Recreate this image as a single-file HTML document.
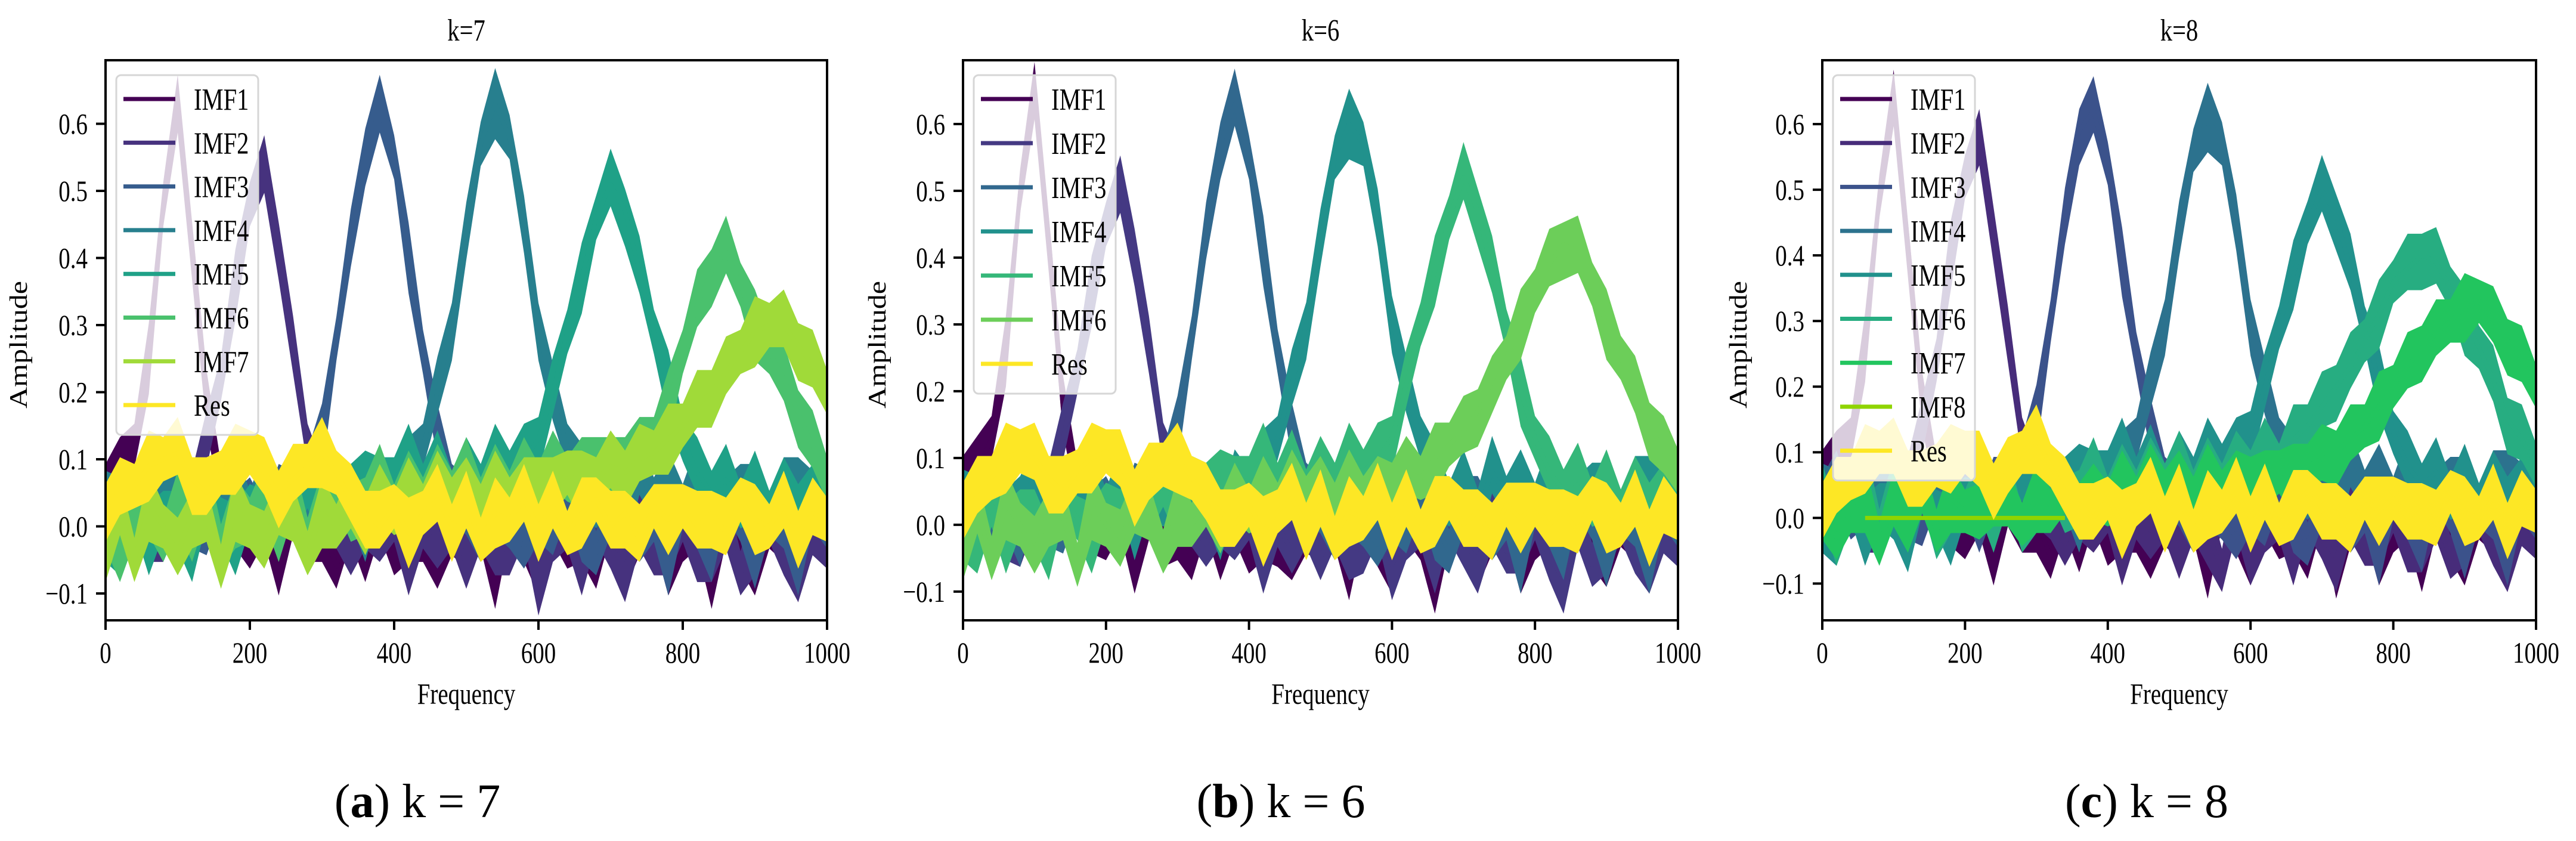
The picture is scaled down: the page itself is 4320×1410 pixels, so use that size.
<!DOCTYPE html>
<html><head><meta charset="utf-8">
<style>
html,body{margin:0;padding:0;background:#fff;}
svg{display:block;}
text{font-family:"Liberation Serif","DejaVu Serif",serif;fill:#000;}
</style></head>
<body>
<svg id="fig" width="4320" height="1410" viewBox="0 0 4320 1410" xmlns="http://www.w3.org/2000/svg">
<rect x="0" y="0" width="4320" height="1410" fill="#fff"/>
</svg>
<script>
// ---- data (values sampled every 20 Hz, 0..1000) ----
const freqs = [0,20,40,60,80,100,120,140,160,180,200,220,240,260,280,300,320,340,360,380,400,420,440,460,480,500,520,540,560,580,600,620,640,660,680,700,720,740,760,780,800,820,840,860,880,900,920,940,960,980,1000];
const xTicks = [0,200,400,600,800,1000];
const yTicks = [-0.1,0.0,0.1,0.2,0.3,0.4,0.5,0.6];
const yTickLabels = ["\u22120.1","0.0","0.1","0.2","0.3","0.4","0.5","0.6"];

const a_names = ["IMF1","IMF2","IMF3","IMF4","IMF5","IMF6","IMF7","Res"];
const a_colors = ["#440154","#46327e","#365c8d","#277f8e","#1fa187","#4ac16d","#a0da39","#fde725"];
const a_imf1 = [0.06,0.08,0.12,0.25,0.48,0.62,0.42,0.18,0.06,0.02,-0.03,0.01,-0.05,0.02,-0.02,0.0,-0.06,0.01,-0.03,0.02,-0.04,0.0,-0.02,-0.06,0.01,-0.03,0.0,-0.07,0.02,-0.02,-0.05,0.01,-0.03,0.0,-0.06,0.02,-0.04,-0.01,0.01,-0.05,-0.02,0.0,-0.07,0.01,-0.03,-0.05,0.0,-0.02,-0.06,0.01,-0.03];
const a_imf2 = [0.02,-0.03,0.04,0.0,-0.02,0.03,0.05,0.12,0.22,0.36,0.48,0.53,0.42,0.26,0.12,0.04,0.0,-0.04,0.02,-0.02,0.01,-0.05,0.0,-0.03,0.02,-0.06,0.0,-0.02,-0.04,0.01,-0.08,-0.02,0.0,-0.05,0.01,-0.03,-0.06,0.0,-0.04,-0.02,0.01,-0.05,-0.03,0.0,-0.07,-0.02,0.01,-0.04,-0.06,-0.01,-0.03];
const a_imf3 = [0.03,0.05,0.0,0.04,-0.02,0.06,0.02,-0.01,0.05,0.0,0.04,-0.02,0.06,0.03,0.08,0.13,0.28,0.42,0.56,0.62,0.55,0.4,0.26,0.13,0.06,0.02,-0.02,0.04,0.0,-0.03,0.03,-0.01,0.05,0.0,-0.04,0.02,0.04,-0.02,0.01,-0.05,0.03,0.0,-0.03,0.05,0.01,-0.04,0.02,0.0,-0.05,0.03,0.0];
const a_imf4 = [0.05,0.02,0.06,0.0,0.04,0.07,0.01,0.05,0.03,0.06,0.02,0.06,0.0,0.05,0.03,0.07,0.02,0.04,0.0,0.06,0.05,0.08,0.12,0.2,0.3,0.43,0.57,0.63,0.58,0.44,0.3,0.19,0.12,0.07,0.03,0.06,0.02,0.08,0.04,0.06,0.03,0.07,0.05,0.02,0.06,0.04,0.01,0.05,0.07,0.03,0.06];
const a_imf5 = [0.0,-0.04,0.03,-0.02,0.02,0.0,-0.03,0.04,0.01,-0.02,0.03,0.0,0.05,0.02,0.06,0.03,0.07,0.04,0.08,0.05,0.07,0.1,0.06,0.09,0.05,0.08,0.06,0.1,0.08,0.1,0.13,0.2,0.29,0.37,0.46,0.51,0.47,0.38,0.29,0.21,0.13,0.08,0.05,0.07,0.03,0.06,0.02,0.05,0.03,0.04,0.02];
const a_imf6 = [0.02,-0.05,0.01,0.04,-0.02,0.03,0.0,0.05,-0.03,0.02,0.01,0.04,0.0,0.05,-0.02,0.03,0.06,0.01,0.04,0.07,0.03,0.06,0.04,0.07,0.05,0.08,0.04,0.07,0.05,0.08,0.06,0.09,0.07,0.08,0.1,0.08,0.1,0.11,0.13,0.18,0.26,0.33,0.38,0.41,0.36,0.3,0.26,0.22,0.17,0.12,0.07];
const a_imf7 = [-0.03,0.02,-0.05,0.03,0.0,-0.04,0.02,0.01,-0.06,0.03,0.0,-0.03,0.04,0.01,-0.04,0.02,0.0,0.03,0.01,0.04,0.02,0.05,0.03,0.06,0.04,0.05,0.03,0.06,0.04,0.05,0.07,0.05,0.08,0.06,0.07,0.09,0.08,0.1,0.11,0.13,0.15,0.18,0.2,0.23,0.26,0.29,0.3,0.3,0.27,0.24,0.2];
const a_res = [0.03,0.05,0.06,0.09,0.1,0.11,0.07,0.05,0.08,0.1,0.11,0.08,0.05,0.07,0.09,0.11,0.08,0.04,0.02,0.0,0.03,-0.01,0.02,0.04,0.0,0.03,-0.02,0.02,0.01,0.04,0.0,0.03,-0.01,0.02,0.04,0.0,0.02,-0.02,0.03,0.01,0.03,0.0,0.02,-0.01,0.04,0.01,0.0,0.03,-0.01,0.02,0.01];

const b_names = ["IMF1","IMF2","IMF3","IMF4","IMF5","IMF6","Res"];
const b_colors = ["#440154","#443983","#31688e","#21918c","#35b779","#6cce59","#fde725"];
const b_imf1 = [0.07,0.08,0.13,0.26,0.5,0.64,0.43,0.17,0.06,0.01,-0.02,0.02,-0.05,0.01,-0.03,0.0,-0.05,0.02,-0.03,0.01,-0.04,0.0,-0.03,-0.05,0.01,-0.02,0.0,-0.06,0.02,-0.03,-0.05,0.01,-0.02,-0.08,0.0,0.02,-0.04,-0.01,0.01,-0.05,-0.02,0.0,-0.06,0.01,-0.03,-0.04,0.0,-0.02,-0.05,0.01,-0.03];
const b_imf2 = [0.01,-0.03,0.04,0.0,-0.03,0.03,0.06,0.13,0.23,0.35,0.45,0.5,0.41,0.26,0.12,0.05,0.0,-0.03,0.02,-0.02,0.01,-0.05,0.0,-0.04,0.02,-0.05,0.0,-0.03,-0.04,0.01,-0.06,-0.02,0.0,-0.05,0.01,-0.03,-0.05,0.0,-0.04,-0.02,0.01,-0.05,-0.08,0.0,-0.06,-0.02,0.01,-0.04,-0.05,-0.01,-0.03];
const b_imf3 = [0.03,0.05,0.0,0.04,-0.03,0.06,0.02,-0.01,0.05,0.0,0.04,-0.02,0.06,0.03,0.08,0.14,0.28,0.43,0.57,0.63,0.55,0.41,0.26,0.13,0.06,0.02,-0.02,0.04,0.0,-0.03,0.03,-0.01,0.05,0.0,-0.04,0.02,0.04,-0.02,0.01,-0.05,0.03,0.0,-0.03,0.05,0.01,-0.04,0.02,0.0,-0.05,0.03,0.0];
const b_imf4 = [0.05,0.02,0.06,0.0,0.04,0.07,0.01,0.05,0.03,0.06,0.02,0.06,0.0,0.05,0.03,0.07,0.02,0.04,0.0,0.06,0.05,0.09,0.13,0.21,0.3,0.42,0.55,0.6,0.57,0.45,0.31,0.2,0.13,0.07,0.03,0.06,0.02,0.08,0.04,0.06,0.03,0.07,0.05,0.02,0.06,0.04,0.01,0.05,0.07,0.03,0.06];
const b_imf5 = [0.0,-0.04,0.03,-0.02,0.02,0.0,-0.03,0.04,0.01,-0.02,0.03,0.0,0.05,0.02,0.06,0.03,0.07,0.04,0.08,0.05,0.07,0.1,0.06,0.09,0.05,0.08,0.06,0.1,0.08,0.1,0.13,0.21,0.3,0.38,0.46,0.52,0.47,0.38,0.29,0.2,0.13,0.08,0.05,0.07,0.03,0.06,0.02,0.05,0.03,0.04,0.02];
const b_imf6 = [-0.03,0.02,-0.05,0.03,0.0,-0.04,0.02,0.01,-0.06,0.03,0.0,-0.03,0.04,0.01,-0.04,0.02,0.0,0.03,0.01,0.04,0.02,0.05,0.03,0.06,0.04,0.05,0.03,0.06,0.04,0.05,0.06,0.08,0.07,0.1,0.12,0.14,0.17,0.2,0.25,0.3,0.35,0.39,0.42,0.41,0.36,0.3,0.25,0.2,0.15,0.11,0.08];
const b_res = [0.03,0.05,0.07,0.1,0.11,0.1,0.07,0.05,0.08,0.1,0.11,0.09,0.05,0.07,0.09,0.1,0.07,0.04,0.02,0.0,0.03,-0.01,0.02,0.04,0.0,0.03,-0.02,0.02,0.01,0.04,0.0,0.03,-0.01,0.02,0.04,0.0,0.02,-0.02,0.03,0.01,0.03,0.0,0.02,-0.01,0.04,0.01,0.0,0.03,-0.01,0.02,0.01];

const c_names = ["IMF1","IMF2","IMF3","IMF4","IMF5","IMF6","IMF7","IMF8","Res"];
const c_colors = ["#440154","#472c7a","#3b528b","#2c728e","#21918c","#27ad81","#22c55e","#8fd400","#fde725"];
const c_imf1 = [0.07,0.08,0.12,0.26,0.49,0.63,0.42,0.17,0.06,0.01,-0.03,0.01,-0.05,0.02,-0.02,0.0,-0.06,0.01,-0.03,0.02,-0.04,0.0,-0.02,-0.06,0.01,-0.03,0.0,-0.07,0.02,-0.02,-0.05,0.01,-0.03,0.0,-0.06,0.02,-0.07,-0.01,0.01,-0.05,-0.02,0.0,-0.06,0.01,-0.03,-0.05,0.0,-0.02,-0.06,0.01,-0.03];
const c_imf2 = [0.02,-0.03,0.04,0.0,-0.02,0.03,0.06,0.13,0.24,0.4,0.52,0.57,0.44,0.27,0.12,0.04,0.0,-0.04,0.02,-0.02,0.01,-0.05,0.0,-0.03,0.02,-0.06,0.0,-0.02,-0.08,0.01,-0.05,-0.02,0.0,-0.05,0.01,-0.03,-0.06,0.0,-0.04,-0.02,0.01,-0.05,-0.03,0.0,-0.06,-0.02,0.01,-0.04,-0.06,-0.01,-0.03];
const c_imf3 = [0.03,0.05,0.0,0.04,-0.02,0.06,0.02,-0.01,0.05,0.0,0.04,-0.02,0.06,0.04,0.09,0.15,0.3,0.45,0.59,0.62,0.54,0.39,0.25,0.13,0.06,0.02,-0.02,0.04,0.0,-0.03,0.03,-0.01,0.05,0.0,-0.04,0.02,0.04,-0.02,0.01,-0.05,0.03,0.0,-0.03,0.05,0.01,-0.04,0.02,0.0,-0.05,0.03,0.0];
const c_imf4 = [0.05,0.02,0.06,0.0,0.04,0.07,0.01,0.05,0.03,0.06,0.02,0.06,0.0,0.05,0.03,0.07,0.02,0.04,0.0,0.06,0.05,0.08,0.12,0.2,0.3,0.43,0.56,0.61,0.57,0.44,0.3,0.19,0.12,0.07,0.03,0.06,0.02,0.08,0.04,0.06,0.03,0.07,0.05,0.02,0.06,0.04,0.01,0.05,0.07,0.03,0.06];
const c_imf5 = [0.0,-0.04,0.03,-0.02,0.02,0.0,-0.03,0.04,0.01,-0.02,0.03,0.0,0.05,0.02,0.06,0.03,0.07,0.04,0.08,0.05,0.07,0.1,0.06,0.09,0.05,0.08,0.06,0.1,0.08,0.1,0.13,0.2,0.29,0.37,0.45,0.5,0.46,0.38,0.29,0.21,0.13,0.08,0.05,0.07,0.03,0.06,0.02,0.05,0.03,0.04,0.02];
const c_imf6 = [0.05,-0.04,0.02,0.06,-0.02,0.04,0.0,0.05,-0.03,0.03,0.01,0.04,0.0,0.05,-0.02,0.03,0.06,0.01,0.04,0.07,0.03,0.06,0.04,0.07,0.05,0.08,0.04,0.07,0.05,0.08,0.07,0.1,0.08,0.12,0.14,0.17,0.2,0.23,0.27,0.31,0.36,0.38,0.4,0.39,0.35,0.3,0.26,0.21,0.15,0.12,0.08];
const c_imf7 = [0.02,-0.03,0.01,0.03,-0.04,0.02,0.0,0.04,-0.02,0.03,0.01,0.0,0.04,0.02,-0.01,0.03,0.01,0.04,0.02,0.03,0.02,0.05,0.03,0.06,0.04,0.05,0.03,0.06,0.04,0.05,0.06,0.05,0.07,0.06,0.08,0.09,0.1,0.12,0.14,0.17,0.2,0.23,0.26,0.28,0.3,0.32,0.33,0.3,0.27,0.24,0.2];
const c_imf8 = [null,null,null,0.0,0.0,0.0,0.0,0.0,0.0,0.0,0.0,0.0,0.0,0.0,0.0,0.0,0.0,0.0,null,null,null,null,null,null,null,null,null,null,null,null,null,null,null,null,null,null,null,null,null,null,null,null,null,null,null,null,null,null,null,null,null];
const c_res = [0.02,0.04,0.06,0.09,0.1,0.1,0.07,0.05,0.08,0.09,0.1,0.08,0.05,0.07,0.1,0.12,0.08,0.04,0.02,0.0,0.03,-0.01,0.02,0.04,0.0,0.03,-0.02,0.02,0.01,0.04,0.0,0.03,-0.01,0.02,0.04,0.0,0.02,-0.02,0.03,0.01,0.03,0.0,0.02,-0.01,0.04,0.01,0.0,0.03,-0.01,0.02,0.01];

const panels = [
  {id:"a", title:"k=7", caption:"k = 7", names:a_names, colors:a_colors,
   series:[a_imf1,a_imf2,a_imf3,a_imf4,a_imf5,a_imf6,a_imf7,a_res],
   L:177, R:1387, T:101, B:1040, ymin:-0.14, ymax:0.6947, capX:700, ylabX:30, legStep:73.3},
  {id:"b", title:"k=6", caption:"k = 6", names:b_names, colors:b_colors,
   series:[b_imf1,b_imf2,b_imf3,b_imf4,b_imf5,b_imf6,b_res],
   L:1615, R:2814, T:101, B:1040, ymin:-0.143, ymax:0.6955, capX:2148, ylabX:1470, legStep:74},
  {id:"c", title:"k=8", caption:"k = 8", names:c_names, colors:c_colors,
   series:[c_imf1,c_imf2,c_imf3,c_imf4,c_imf5,c_imf6,c_imf7,c_imf8,c_res],
   L:3056, R:4253, T:101, B:1040, ymin:-0.156, ymax:0.6973, capX:3600, ylabX:2914, legStep:73.7}
];

const NS = "http://www.w3.org/2000/svg";
const svg = document.getElementById('fig');
function mk(tag, attrs, parent){
  const e = document.createElementNS(NS, tag);
  for (const k in attrs) e.setAttribute(k, attrs[k]);
  (parent||svg).appendChild(e);
  return e;
}
const SX = 0.78; // horizontally condensed text

panels.forEach(p => {
  const g = mk('g', {});
  
  
  const xs = v => p.L + (v - 0) / 1000 * (p.R - p.L);
  const ys = v => p.B - (v - p.ymin) / (p.ymax - p.ymin) * (p.B - p.T);
  const clipId = 'clip' + p.id;
  const cp = mk('clipPath', {id: clipId}, g);
  mk('rect', {x:p.L, y:p.T, width:p.R-p.L, height:p.B-p.T}, cp);
  const plot = mk('g', {'clip-path':'url(#' + clipId + ')'}, g);
  
  
  const bw = 0.033;
  p.series.forEach((vals, si) => {
    const sg = mk('g', {}, plot);
    
    
    // split into contiguous segments (skip nulls)
    let segs = [], cur = [];
    vals.forEach((v, i) => { if (v === null) { if (cur.length) segs.push(cur); cur = []; } else cur.push(i); });
    if (cur.length) segs.push(cur);
    segs.forEach(seg => {
      const isFlat = seg.every(i => vals[i] === 0);
      if (!isFlat) {
        let up = seg.map(i => xs(freqs[i]) + ',' + ys(vals[i] + bw + ((i % 2) ? 0.02 : 0)));
        let dn = seg.slice().reverse().map(i => xs(freqs[i]) + ',' + ys(vals[i] - bw - ((i % 3 === 0) ? 0.02 : 0)));
        const band = mk('polygon', {points: up.concat(dn).join(' '), fill: p.colors[si]}, sg);
        
        
      }
      const line = mk('polyline', {points: seg.map(i => xs(freqs[i]) + ',' + ys(vals[i])).join(' '),
        fill:'none', stroke:p.colors[si], 'stroke-width':7, 'stroke-linejoin':'round'}, sg);
      
      
    });
  });
  // legend
  const n = p.names.length;
  const lg = mk('g', {}, g);
  
  
  const ly0 = 166;
  mk('rect', {x:p.L+18, y:126, width:238, height:(n-1)*p.legStep + 90, rx:8, fill:'#fff', 'fill-opacity':0.8, stroke:'#d6d6d6', 'stroke-width':3}, lg);
  p.names.forEach((nm, i) => {
    const y = ly0 + i * p.legStep;
    const le = mk('g', {}, lg);
    
    
    mk('line', {x1:p.L+30, x2:p.L+117, y1:y, y2:y, stroke:p.colors[i], 'stroke-width':7}, le);
    const t = mk('text', {transform:'translate(' + (p.L+148) + ',' + (y+18) + ') scale(' + SX + ',1)', 'font-size':52}, le);
    t.textContent = nm;
  });
  // axes frame
  const fr = mk('rect', {x:p.L, y:p.T, width:p.R-p.L, height:p.B-p.T, fill:'none', stroke:'#000', 'stroke-width':4}, g);
  
  
  // x ticks
  const xa = mk('g', {}, g);
  
  
  xTicks.forEach(v => {
    const x = xs(v);
    mk('line', {x1:x, x2:x, y1:p.B, y2:p.B+16, stroke:'#000', 'stroke-width':4}, xa);
    const t = mk('text', {transform:'translate(' + x + ',' + (p.B+71) + ') scale(' + SX + ',1)', 'font-size':50, 'text-anchor':'middle'}, xa);
    t.textContent = String(v);
  });
  const xt = mk('text', {transform:'translate(' + ((p.L+p.R)/2) + ',' + (p.B+140) + ') scale(' + SX + ',1)', 'font-size':50, 'text-anchor':'middle'}, g);
  
  
  xt.textContent = 'Frequency';
  // y ticks
  const ya = mk('g', {}, g);
  
  
  yTicks.forEach((v, i) => {
    const y = ys(v);
    mk('line', {x1:p.L-16, x2:p.L, y1:y, y2:y, stroke:'#000', 'stroke-width':4}, ya);
    const t = mk('text', {transform:'translate(' + (p.L-30) + ',' + (y+17) + ') scale(' + SX + ',1)', 'font-size':50, 'text-anchor':'end'}, ya);
    t.textContent = yTickLabels[i];
  });
  const yt = mk('text', {transform:'translate(' + (p.ylabX+15) + ',' + 578 + ') rotate(-90) scale(1,0.85)', 'font-size':50, 'text-anchor':'middle'}, g);
  
  
  yt.textContent = 'Amplitude';
  // title
  const tt = mk('text', {transform:'translate(' + ((p.L+p.R)/2) + ',68) scale(' + SX + ',1)', 'font-size':52, 'text-anchor':'middle'}, g);
  
  
  tt.textContent = p.title;
  // caption
  const cap = mk('text', {x:p.capX, y:1370, 'font-size':80, 'text-anchor':'middle'}, svg);
  
  
  const t1 = mk('tspan', {}, cap); t1.textContent = '(';
  const t2 = mk('tspan', {'font-weight':'bold'}, cap); t2.textContent = p.id;
  const t3 = mk('tspan', {}, cap); t3.textContent = ') ' + p.caption;
});
</script>
</body></html>
